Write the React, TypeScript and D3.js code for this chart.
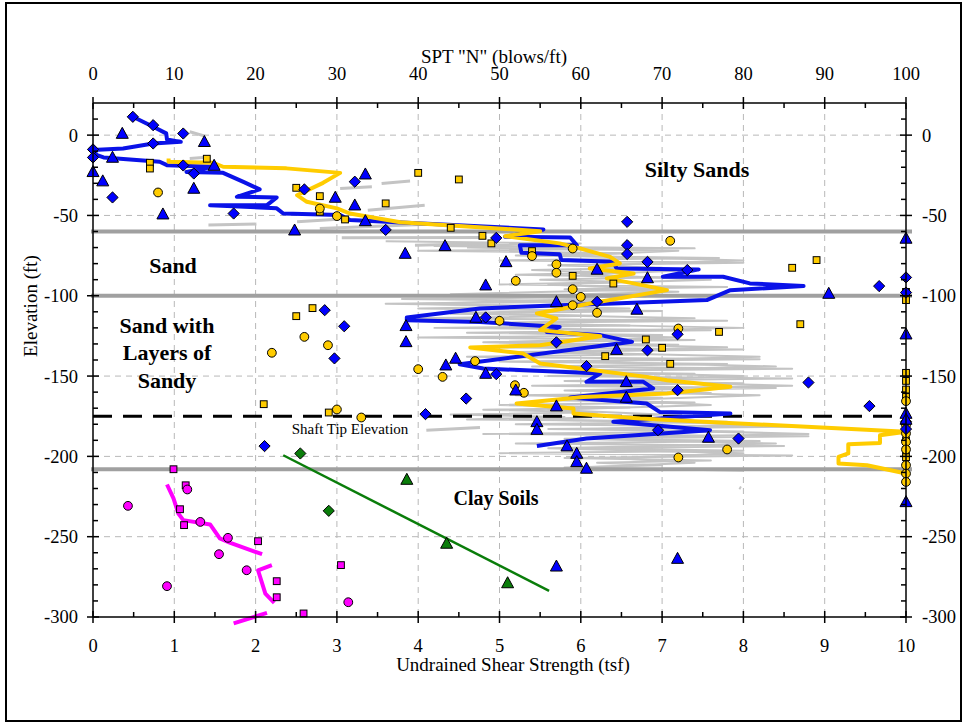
import React from "react";
import * as d3 from "d3";

type Pt = [number, number];

// axis ticks
const sptTicks = [0, 10, 20, 30, 40, 50, 60, 70, 80, 90, 100];
const suTicks = [0, 1, 2, 3, 4, 5, 6, 7, 8, 9, 10];
const elevTicks = [-300, -250, -200, -150, -100, -50, 0];

// soil boundaries (ft)
const layerElevations = [-60, -100, -208];
const shaftTipElevation = -175;

// SPT N markers [N, elevation]
const blueDiamonds: Pt[] = [
  [4.9, 11.4], [7.4, 6.2], [11.1, 1], [7.4, -5.2], [0, -8.9], [0, -13.9], [11.1, -18.9], [12.4, -23.9],
  [2.4, -38.8], [17.3, -48.8], [26, -33.8], [32.2, -29], [36, -59], [49.6, -64], [65.7, -54], [65.7, -68.5],
  [65.7, -74], [68.2, -78.9], [73.1, -84], [96.7, -94], [100, -88.6], [100, -98], [62, -103.8], [48.3, -113.5],
  [28.5, -109], [30.9, -119], [29.7, -139], [71.9, -124], [57, -129], [68.2, -134], [60.7, -143.8], [49.6, -148.8],
  [88, -154], [71.9, -158.8], [45.9, -164], [95.5, -168.7], [40.9, -173.7], [100, -178.5], [100, -183],
  [69.5, -183.7], [79.4, -188.9], [21.1, -193.6],
];
const blueTriangles: Pt[] = [
  [3.6, 1], [13.7, -4.1], [2.4, -13.9], [0, -22.8], [1.2, -28.6], [14.9, -18.9], [12.4, -33.2], [8.6, -49.2],
  [29.8, -38.8], [24.8, -59.2], [33.5, -24.3], [32.2, -43.6], [33.5, -53.4], [38.4, -73.7], [43.3, -68.9],
  [50.8, -78.9], [48.3, -93.4], [57, -103.8], [62, -83.6], [68.2, -88.9], [66.9, -108.5], [47.1, -113.5],
  [38.5, -118.7], [38.5, -128.7], [64.4, -133.5], [44.6, -139], [43.4, -143.2], [48.3, -148.4], [52, -158.8],
  [65.6, -153.6], [65.6, -163.3], [57, -168.7], [54.6, -178.5], [54.6, -183.3], [58.3, -193.6], [59.5, -198.2],
  [59.5, -203.4], [60.7, -207.5], [75.7, -188.2], [100, -228.3], [57, -268.4], [71.9, -263.6], [90.5, -98.6],
  [100, -64.3], [100, -123.9], [100, -173.3], [100, -177],
];
const yellowCircles: Pt[] = [
  [8, -35.7], [27.9, -45.7], [30, -50.4], [59, -70.6], [54, -75.3], [57, -80.5], [57, -85.7], [52, -90.7],
  [59, -95.9], [60, -100.7], [59, -105.9], [62, -110.6], [50, -115.6], [47, -140.7], [40, -145.7], [43, -150.5],
  [51.9, -155.7], [53, -160.4], [71, -65.8], [72, -120.4], [78, -195.7], [72, -200.7], [26, -125.6],
  [28.9, -130.8], [22, -135.5], [30, -170.8], [33, -175.8], [100, -165.6], [100, -180.6], [100, -185.7],
  [100, -191], [100, -195.7], [100, -205.5], [100, -210.7], [100, -215.9],
];
const yellowSquares: Pt[] = [
  [7, -17.2], [7, -20.8], [14, -14.7], [25, -32.8], [27.9, -38], [27.9, -47.7], [31, -52.5], [40, -23.5],
  [45, -27.6], [36, -42.5], [44, -57.7], [47.9, -62.7], [49, -67.4], [54, -72.2], [59, -87.6], [64, -92.4],
  [68, -127.2], [63, -137.6], [70, -132.4], [71, -142.4], [77, -122.5], [87, -117.7], [86, -82.6], [89, -77.8],
  [25, -112.7], [27, -107.7], [21, -167.5], [29, -172.7], [100, -97.6], [100, -102.7], [100, -148], [100, -153],
  [100, -158.4], [100, -163], [100, -190], [100, -196], [100, -200.5],
];

// SPT N profiles [N, elevation]
const blueProfile: Pt[] = [
  [4.9, 11.4], [7.4, 5.2], [9.0, 1.1], [9.1, -2.7], [10.8, -4.2], [7.4, -5.2], [3.7, -8.3], [0, -9.3],
  [0.5, -12.5], [1.3, -13.9], [8.2, -16.6], [9.1, -18.7], [14.8, -19.7], [11.5, -22.9], [16.0, -23.5],
  [18.5, -29.1], [20.5, -33.8], [17.7, -38.4], [22.6, -38.8], [21.4, -43.6], [14.4, -43.6], [22.6, -45.6],
  [23.4, -48.8], [30.4, -49.8], [31.6, -52.9], [55.4, -58.7], [50.7, -63.3], [58.7, -63.7], [59.5, -68.5],
  [52.5, -68.5], [52.7, -73.3], [57.4, -74.1], [57.6, -77.8], [64.0, -78.9], [64.4, -83.0], [74.5, -83.6],
  [70.1, -88.2], [77.5, -88.2], [80.8, -92.3], [87.4, -94.0], [78.4, -96.5], [75.5, -102.7], [64.0, -104.8],
  [57.4, -105.9], [47.6, -107.9], [38.6, -113.5], [38.6, -115.2], [47.6, -116.3], [57.4, -119.4],
  [55.8, -122.5], [62.4, -124.5], [66.3, -128.7], [45.1, -142.6], [48.0, -145.3], [62.4, -148.4],
  [60.7, -153.6], [67.7, -153.6], [68.9, -157.7], [58.7, -163.3], [68.1, -167.1], [69.7, -172.3],
  [78.4, -173.3], [64.0, -178.5], [75.9, -183.7], [60.7, -188.9], [54.6, -193.6],
];
const yellowProfile: Pt[] = [
  [9.3, -14.5], [9.3, -16.6], [14.8, -17.2], [16.0, -19.7], [23.8, -20.7], [30.4, -23.5], [28.3, -29.7],
  [25.1, -37.4], [26.3, -41.5], [30.0, -45.6], [31.6, -48.8], [37.8, -54.2], [55.0, -59.8], [50.7, -62.9],
  [57.4, -67.4], [59.9, -70.5], [63.6, -75.8], [64.8, -79.9], [61.1, -83.0], [66.5, -86.1], [63.2, -89.2],
  [66.5, -92.3], [70.6, -96.5], [61.1, -104.8], [54.6, -111.0], [57.0, -114.1], [55.0, -121.4], [62.4, -125.2],
  [55.0, -130.8], [46.4, -132.2], [52.9, -135.9], [55.0, -142.2], [68.1, -150.5], [70.6, -152.6],
  [78.4, -156.7], [70.6, -160.8], [60.3, -163.0], [52.1, -167.1], [59.1, -170.2], [59.1, -173.3],
  [67.3, -176.4], [100, -184.7], [96.8, -186.8], [96.8, -191.6], [92.9, -192.4], [92.9, -198.2],
  [91.7, -200.3], [91.7, -204.4], [95.2, -205.5], [100, -210.7],
];
const graySegments: Pt[][] = [
  [[11.9, 2.1], [13.8, -0.6]], [[11.9, -14.5], [13.9, -13.7]], [[30.4, -33.2], [34.3, -32.2]],
  [[35.5, -30.1], [39, -28.5]], [[33.8, -46.7], [40.8, -43.6]], [[14.2, -56], [20.1, -55.4]],
  [[25.1, -54], [31.6, -51.9]], [[27.9, -58.1], [41.9, -55.4]], [[30.6, -63.9], [48.4, -63.7]],
  [[39.6, -68.5], [49.2, -67.4]], [[41, -183.7], [47.6, -182]], [[79.5, -219.3], [79.7, -219.9]],
];
const grayProfileA: Pt[] = [
  [36, -66], [60, -67.5], [42, -69], [74, -70.5], [40, -72], [66, -73.5], [52, -75], [77, -76.5], [50, -78],
  [80, -79.5], [56, -81], [70, -82.5], [54, -84], [64, -85.5], [52, -87], [70, -88.5], [55, -90], [66, -91.5],
  [50, -93], [78, -94.5], [58, -96], [72, -97.5], [60, -99], [68, -100.5], [38, -102], [64, -103.5], [36, -105],
  [58, -106.5], [40, -108], [70, -109.5], [44, -111], [62, -112.5], [40, -114], [78, -115.5], [48, -117],
  [66, -118.5], [42, -120], [76, -121.5], [46, -123], [70, -124.5], [40, -126], [74, -127.5], [50, -129],
  [72, -130.5], [48, -132], [80, -133.5], [52, -135], [68, -136.5], [46, -138], [82, -139.5], [50, -141],
  [78, -142.5], [54, -144], [86, -145.5], [52, -147], [74, -148.5], [56, -150], [86, -151.5], [58, -153],
  [80, -154.5], [54, -156], [84, -157.5], [60, -159], [76, -160.5], [52, -162], [70, -163.5], [56, -165],
  [74, -166.5], [50, -168], [66, -169.5], [48, -171], [62, -172.5], [44, -174], [58, -175.5], [46, -177],
  [78, -178.5], [52, -180], [86, -181.5], [56, -183], [80, -184.5], [48, -186], [88, -187.5], [58, -189],
  [82, -190.5], [52, -192], [85, -193.5], [60, -195], [80, -196.5], [50, -198], [86, -199.5], [58, -201],
  [76, -202.5], [62, -204], [70, -205.5], [58, -207], [80, -209],
];
const grayProfileB: Pt[] = [
  [46, -70], [72, -72], [58, -75], [80, -78], [62, -81], [74, -84], [60, -87], [76, -90], [56, -93], [70, -96],
  [44, -99], [62, -102], [40, -105], [66, -108], [44, -111], [74, -114], [50, -117], [80, -120], [52, -123],
  [72, -126], [48, -129], [78, -132], [56, -135], [82, -138], [60, -141], [84, -144], [56, -147], [80, -150],
  [62, -153], [86, -156], [58, -159], [82, -162], [64, -165], [76, -168], [56, -171], [70, -174], [54, -177],
  [82, -180], [62, -183], [88, -186], [60, -189], [84, -192], [56, -195], [80, -198], [64, -201], [74, -204],
  [60, -207],
];

// undrained shear strength [tsf, elevation]
const magentaCircles: Pt[] = [
  [0.43, -230.8], [1.16, -220.6], [1.32, -240.8], [1.66, -250.7], [1.55, -260.9], [1.89, -270.9],
  [0.91, -280.8], [3.14, -290.8],
];
const magentaSquares: Pt[] = [
  [0.99, -208], [1.14, -218], [1.07, -232.9], [1.12, -242.8], [2.03, -252.8], [2.26, -277.7], [2.26, -287.7],
  [3.05, -267.7], [2.59, -297.8],
];
const magentaLines: Pt[][] = [
  [[0.91, -217.5], [0.99, -226.2], [1.05, -235.6], [1.11, -239.7], [1.44, -242.4], [1.56, -251.1],
    [1.69, -253.9], [2.08, -260.9]],
  [[2.2, -267.7], [2.03, -270.9], [2.12, -285.4], [2.23, -291.2]],
  [[2.14, -297.4], [2.01, -299.5], [1.73, -304]],
];
const greenDiamonds: Pt[] = [[2.55, -198.2], [2.9, -233.9]];
const greenTriangles: Pt[] = [[3.86, -214.4], [4.35, -254.2], [5.1, -278.8]];
const greenLine: Pt[] = [[2.34, -199.3], [5.61, -283.7]];

const SERIF = '"Liberation Serif", "Times New Roman", "DejaVu Serif", serif';
const BLUE = "#0000ff";
const BLUE_LINE = "#0a12e8";
const YELLOW = "#ffcc00";
const MAGENTA = "#ff00ff";
const GREEN = "#0a7d0a";

const x = d3.scaleLinear().domain([0, 100]).range([93, 906]);
const xs = d3.scaleLinear().domain([0, 10]).range([93, 906]);
const y = d3.scaleLinear().domain([-300, 20]).range([617, 103]);

const lineN = d3.line<Pt>().x((d) => x(d[0])).y((d) => y(d[1]));
const lineS = d3.line<Pt>().x((d) => xs(d[0])).y((d) => y(d[1]));

function Diamond({ cx, cy, fill }: { cx: number; cy: number; fill: string }) {
  const r = 5.6;
  return <path d={`M${cx},${cy - r}L${cx + r},${cy}L${cx},${cy + r}L${cx - r},${cy}Z`} fill={fill} stroke="#000" strokeWidth={1} />;
}
function Triangle({ cx, cy, fill }: { cx: number; cy: number; fill: string }) {
  return <path d={`M${cx},${cy - 6.2}L${cx + 6},${cy + 4.8}L${cx - 6},${cy + 4.8}Z`} fill={fill} stroke="#000" strokeWidth={1} />;
}
function Circle({ cx, cy, fill }: { cx: number; cy: number; fill: string }) {
  return <circle cx={cx} cy={cy} r={4.4} fill={fill} stroke="#000" strokeWidth={1} />;
}
function Square({ cx, cy, fill }: { cx: number; cy: number; fill: string }) {
  return <rect x={cx - 3.4} y={cy - 3.4} width={6.8} height={6.8} fill={fill} stroke="#000" strokeWidth={1} />;
}

const textStyle = { fontFamily: SERIF };

export default function App() {
  const left = x(0), right = x(100), top = y(20), bottom = y(-300);
  const minorX = d3.range(5, 100, 10);
  const minorY = d3.range(-290, 20, 10).filter((v) => v % 50 !== 0);
  const gridX = sptTicks.filter((t) => t > 0 && t < 100);
  const gridY = elevTicks.filter((t) => t > -300 && t !== -100);

  return (
    <svg width={964} height={723} style={{ position: "absolute", left: 0, top: 0, background: "#fff", fontFamily: SERIF }}>
      <rect x={6} y={3} width={955} height={718} fill="#fff" stroke="#000" strokeWidth={2} />

      {/* grid */}
      <g stroke="#b8b8b8" strokeWidth={1} strokeDasharray="6,5">
        {gridX.map((t) => <line key={"gx" + t} x1={x(t)} x2={x(t)} y1={top} y2={bottom} />)}
        {gridY.map((t) => <line key={"gy" + t} x1={left} x2={right} y1={y(t)} y2={y(t)} />)}
      </g>

      {/* gray CPT-derived profiles */}
      <g fill="none" stroke="#c4c4c4" strokeWidth={2} strokeLinejoin="round">
        <path d={lineN(grayProfileA) ?? ""} />
        <path d={lineN(grayProfileB) ?? ""} />
        {graySegments.map((s, i) => <path key={"gs" + i} d={lineN(s) ?? ""} strokeWidth={3} />)}
      </g>

      {/* layer boundaries */}
      {layerElevations.map((e) => (
        <line key={"lb" + e} x1={left - 2} x2={right + 6} y1={y(e)} y2={y(e)} stroke="#a0a0a0" strokeWidth={4} />
      ))}
      <line x1={left} x2={right} y1={y(shaftTipElevation)} y2={y(shaftTipElevation)} stroke="#000" strokeWidth={3} strokeDasharray="19,11" />

      {/* profiles */}
      <path d={lineN(blueProfile) ?? ""} fill="none" stroke={BLUE_LINE} strokeWidth={4} strokeLinejoin="round" />
      <path d={lineN(yellowProfile) ?? ""} fill="none" stroke={YELLOW} strokeWidth={4} strokeLinejoin="round" />
      {magentaLines.map((s, i) => (
        <path key={"ml" + i} d={lineS(s) ?? ""} fill="none" stroke={MAGENTA} strokeWidth={4} strokeLinejoin="round" />
      ))}
      <path d={lineS(greenLine) ?? ""} fill="none" stroke={GREEN} strokeWidth={2.5} />

      {/* markers */}
      {yellowSquares.map((d, i) => <Square key={"ys" + i} cx={x(d[0])} cy={y(d[1])} fill={YELLOW} />)}
      {yellowCircles.map((d, i) => <Circle key={"yc" + i} cx={x(d[0])} cy={y(d[1])} fill={YELLOW} />)}
      {blueDiamonds.map((d, i) => <Diamond key={"bd" + i} cx={x(d[0])} cy={y(d[1])} fill={BLUE} />)}
      {blueTriangles.map((d, i) => <Triangle key={"bt" + i} cx={x(d[0])} cy={y(d[1])} fill={BLUE} />)}
      {magentaSquares.map((d, i) => <Square key={"ms" + i} cx={xs(d[0])} cy={y(d[1])} fill={MAGENTA} />)}
      {magentaCircles.map((d, i) => <Circle key={"mc" + i} cx={xs(d[0])} cy={y(d[1])} fill={MAGENTA} />)}
      {greenDiamonds.map((d, i) => <Diamond key={"gd" + i} cx={xs(d[0])} cy={y(d[1])} fill={GREEN} />)}
      {greenTriangles.map((d, i) => <Triangle key={"gt" + i} cx={xs(d[0])} cy={y(d[1])} fill={GREEN} />)}

      {/* axes frame */}
      <g stroke="#000" strokeWidth={1.5} fill="none">
        <line x1={left} x2={right} y1={top} y2={top} />
        <line x1={left} x2={right} y1={bottom} y2={bottom} />
        <line x1={left} x2={left} y1={top} y2={bottom} />
        <line x1={right} x2={right} y1={top} y2={bottom} />
        {sptTicks.map((t) => <line key={"tt" + t} x1={x(t)} x2={x(t)} y1={top - 6} y2={top + 6} />)}
        {suTicks.map((t) => <line key={"bt" + t} x1={xs(t)} x2={xs(t)} y1={bottom - 6} y2={bottom + 6} />)}
        {minorX.map((t) => <line key={"mt" + t} x1={x(t)} x2={x(t)} y1={top} y2={top + 5} />)}
        {minorX.map((t) => <line key={"mb" + t} x1={x(t)} x2={x(t)} y1={bottom} y2={bottom - 5} />)}
        {elevTicks.map((t) => <line key={"lt" + t} x1={left - 6} x2={left + 6} y1={y(t)} y2={y(t)} />)}
        {elevTicks.map((t) => <line key={"rt" + t} x1={right - 6} x2={right + 6} y1={y(t)} y2={y(t)} />)}
        {minorY.map((t) => <line key={"ml" + t} x1={left} x2={left + 5} y1={y(t)} y2={y(t)} />)}
        {minorY.map((t) => <line key={"mr" + t} x1={right} x2={right - 5} y1={y(t)} y2={y(t)} />)}
      </g>

      {/* tick labels */}
      <g fontSize={18.5} fill="#000" style={textStyle}>
        {sptTicks.map((t) => <text key={"tl" + t} x={x(t)} y={80} textAnchor="middle">{t}</text>)}
        {suTicks.map((t) => <text key={"bl" + t} x={xs(t)} y={652} textAnchor="middle">{t}</text>)}
        {elevTicks.map((t) => <text key={"ll" + t} x={78} y={y(t)} dy="0.35em" textAnchor="end">{t}</text>)}
        {elevTicks.map((t) => <text key={"rl" + t} x={922} y={y(t)} dy="0.35em" textAnchor="start">{t}</text>)}
      </g>

      {/* axis titles */}
      <g fontSize={19} fill="#000" style={textStyle}>
        <text x={494} y={63} textAnchor="middle">SPT "N" (blows/ft)</text>
        <text x={513} y={671} textAnchor="middle">Undrained Shear Strength (tsf)</text>
        <text transform="translate(37,306) rotate(-90)" textAnchor="middle">Elevation (ft)</text>
      </g>

      {/* layer labels */}
      <g fontWeight="bold" fill="#000" textAnchor="middle" style={textStyle}>
        <text x={697} y={177} fontSize={22}>Silty Sands</text>
        <text x={173} y={273} fontSize={22}>Sand</text>
        <text x={167} y={333} fontSize={22}>Sand with</text>
        <text x={167} y={360} fontSize={22}>Layers of</text>
        <text x={167} y={388} fontSize={22}>Sandy</text>
        <text x={496} y={505} fontSize={20}>Clay Soils</text>
      </g>
      <text x={350} y={434} fontSize={15} textAnchor="middle" fill="#000" style={textStyle}>Shaft Tip Elevation</text>
    </svg>
  );
}
